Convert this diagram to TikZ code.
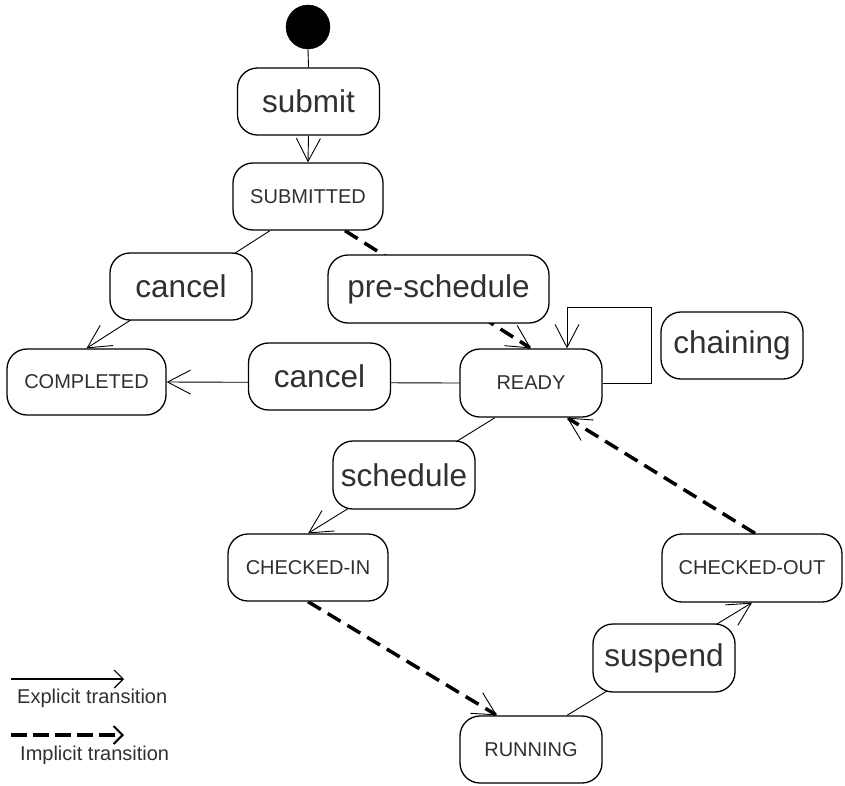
\documentclass[tikz,border=0pt]{standalone}
\usepackage{fontspec}
\setmainfont{Liberation Sans}
\usetikzlibrary{arrows.meta,calc}
\pgfdeclarelayer{bg}
\pgfsetlayers{bg,main}
\definecolor{ink}{HTML}{303030}
\begin{document}
\begin{tikzpicture}[x=1pt,y=-1pt,
  box/.style={draw=black,line width=1.3pt,fill=white,rounded corners=20pt,
    minimum height=67pt,inner sep=0pt,text=ink},
  statebox/.style={box,font=\fontsize{20}{20}\selectfont},
  eventbox/.style={box,minimum width=142pt,font=\fontsize{31.5}{31.5}\selectfont},
  initial/.style={circle,fill=black,draw=black,minimum size=44pt,inner sep=0pt},
  explicit/.style={line width=0.9pt,-{Straight Barb[length=23pt,width=24pt,line width=0.9pt]}},
  implicit/.style={line width=3.5pt,dash pattern=on 15pt off 8pt,
    -{Straight Barb[length=23pt,width=24pt,line width=0.9pt]}},
  legendtext/.style={anchor=base west,inner sep=0pt,text=ink,font=\fontsize{20}{20}\selectfont}]
\useasboundingbox (0,0) rectangle (845,785);

% states and event labels
\node[initial] (start) at (308,27) {};
\node[eventbox] (submit) at (308.5,101.5) {submit};
\node[statebox,minimum width=150pt] (submitted) at (308,196.5) {SUBMITTED};
\node[eventbox] (cancelA) at (181,286.5) {cancel};
\node[eventbox,minimum width=221pt,minimum height=68pt] (presched) at (438.5,289) {pre-schedule};
\node[statebox,minimum width=159pt,minimum height=66pt] (completed) at (86.5,382) {COMPLETED};
\node[eventbox] (cancelB) at (319.5,376.5) {cancel};
\node[statebox,minimum width=142pt,minimum height=68pt] (ready) at (531,383) {READY};
\node[eventbox] (chaining) at (732,345.5) {chaining};
\node[eventbox,minimum height=68pt] (schedule) at (404,475) {schedule};
\node[statebox,minimum width=160pt] (checkedin) at (308,567.5) {CHECKED-IN};
\node[statebox,minimum width=180pt,minimum height=68pt] (checkedout) at (752,568) {CHECKED-OUT};
\node[eventbox,minimum height=68pt] (suspend) at (664,658) {suspend};
\node[statebox,minimum width=142pt] (running) at (531,749.5) {RUNNING};

% transitions, drawn behind the boxes
\begin{pgfonlayer}{bg}
\draw[line width=0.9pt] (start.south) -- (submit.north);
\draw[explicit] (submit.south) -- (submitted.north);
\draw[explicit] ($(submitted.south)+(-38,0)$) -- (completed.north);
\draw[implicit] ($(submitted.south)+(37,0)$) -- (ready.north);
\draw[explicit] (ready.west) -- (completed.east);
\draw[explicit] (ready.east) -- ++(49,0) |- ($(ready.north)+(36,-41)$) -- ($(ready.north)+(36,0)$);
\draw[explicit] ($(ready.south)+(-36,0)$) -- (checkedin.north);
\draw[implicit] (checkedin.south) -- ($(running.north)+(-34,0)$);
\draw[explicit] ($(running.north)+(36,0)$) -- (checkedout.south);
\draw[implicit] ($(checkedout.north)+(3,0)$) -- ($(ready.south)+(36,0)$);
\end{pgfonlayer}

% legend
\coordinate (ea) at (11,679);
\coordinate (eb) at (124,679);
\coordinate (ia) at (11,735);
\coordinate (ib) at (124,735);
\draw[line width=1.2pt,-{Straight Barb[length=9pt,width=18pt,line width=1.2pt]}] (ea) -- (eb);
\draw[line width=3.5pt,dash pattern=on 16pt off 6pt,-{Straight Barb[length=9pt,width=18pt,line width=2pt]}] (ia) -- (ib);
\node[legendtext] (explbl) at (17,703) {Explicit transition};
\node[legendtext] (implbl) at (20,760) {Implicit transition};
\end{tikzpicture}
\end{document}
